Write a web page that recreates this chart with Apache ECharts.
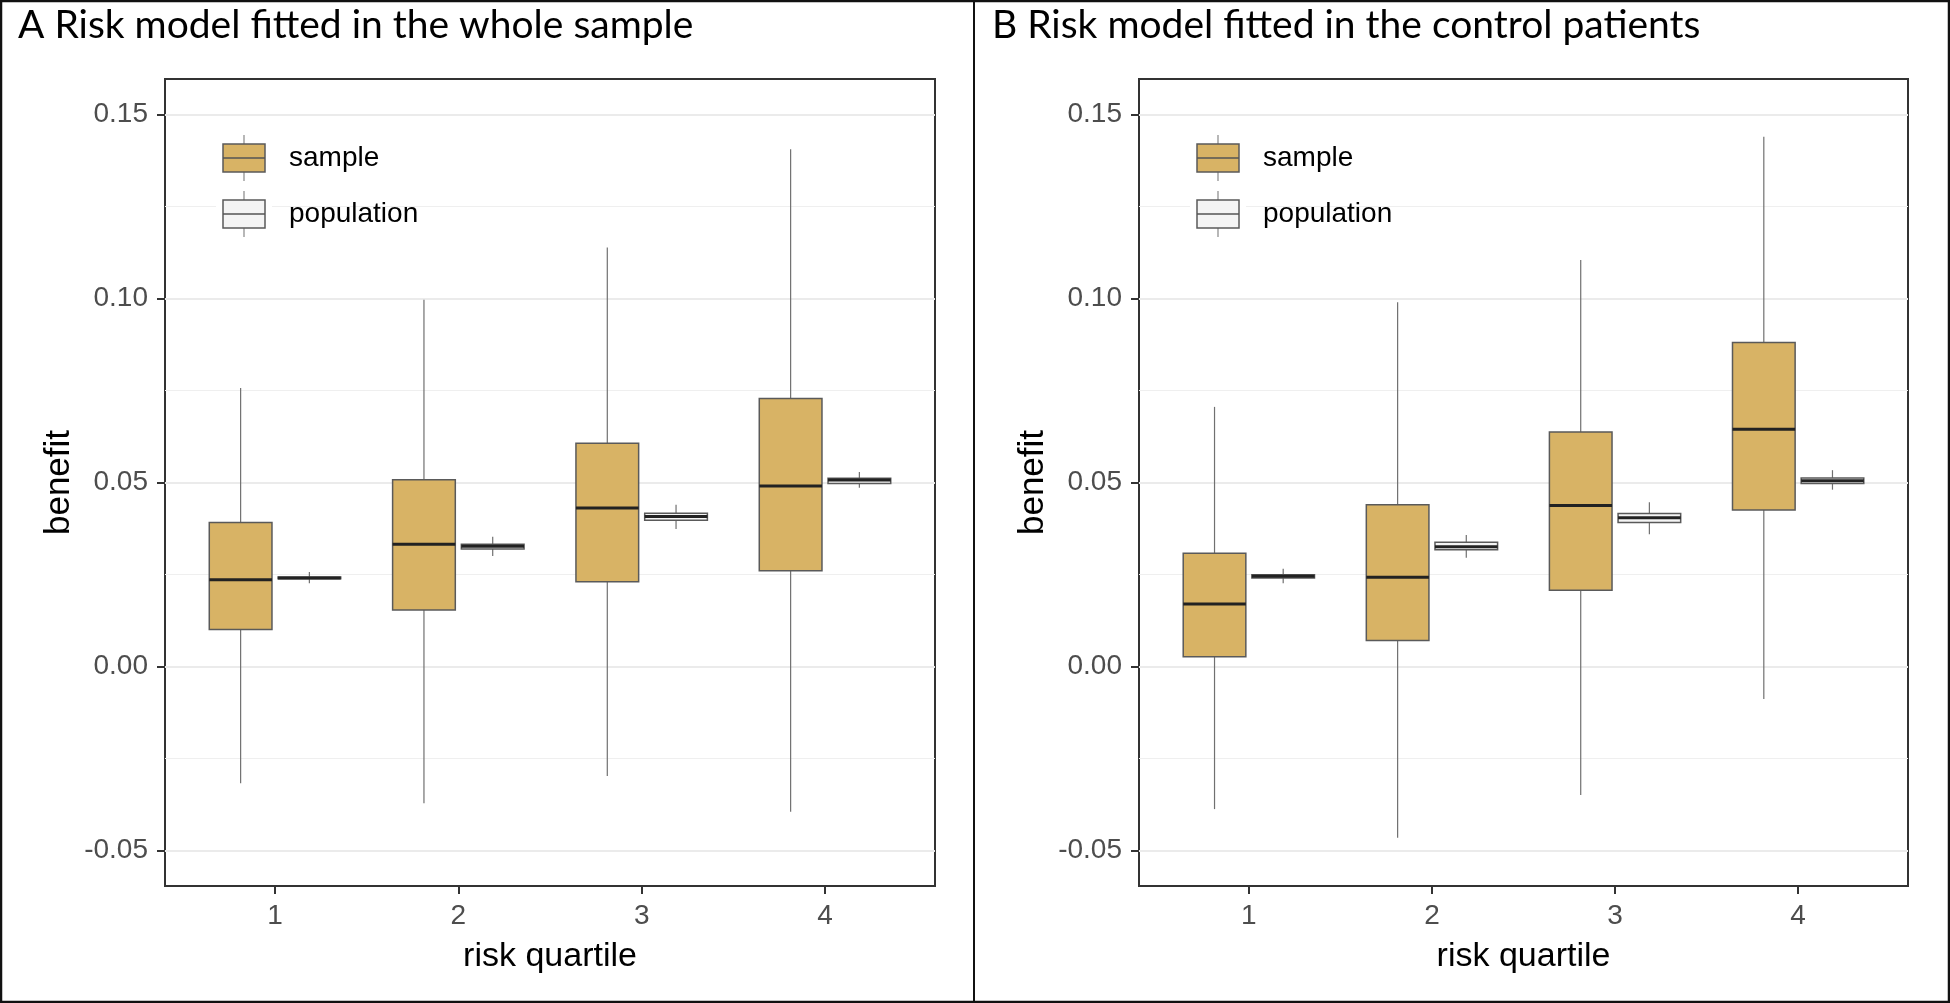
<!DOCTYPE html>
<html><head><meta charset="utf-8">
<script src="https://cdn.jsdelivr.net/npm/echarts@6/dist/echarts.min.js"></script>
<style>html,body{margin:0;padding:0;background:#fff}#c{width:1950px;height:1003px}</style>
</head><body><div id="c"></div><script>
// ---------------- data ----------------
const categories = [1, 2, 3, 4];
const xTickLabels = ['1', '2', '3', '4'];
const yTicks = [-0.05, 0, 0.05, 0.10, 0.15];
const yMinorTicks = [-0.025, 0.025, 0.075, 0.125];
const panelTitles = ['A Risk model fitted in the whole sample', 'B Risk model fitted in the control patients'];
const seriesNames = ['sample', 'population'];
const xTitle = 'risk quartile';
const yTitle = 'benefit';
// each row: [lower whisker, Q1, median, Q3, upper whisker] per risk quartile
const aSample = [
  [-0.0318, 0.0100, 0.0235, 0.0391, 0.0756],
  [-0.0372, 0.0153, 0.0332, 0.0507, 0.0996],
  [-0.0298, 0.0230, 0.0430, 0.0606, 0.1138],
  [-0.0395, 0.0260, 0.0490, 0.0728, 0.1405]
];
const aPopulation = [
  [0.0226, 0.0238, 0.0240, 0.0243, 0.0256],
  [0.0300, 0.0319, 0.0326, 0.0332, 0.0352],
  [0.0373, 0.0397, 0.0407, 0.0416, 0.0439],
  [0.0485, 0.0497, 0.0506, 0.0511, 0.0528]
];
const bSample = [
  [-0.0388, 0.0026, 0.0169, 0.0307, 0.0705],
  [-0.0466, 0.0070, 0.0242, 0.0439, 0.0989],
  [-0.0350, 0.0207, 0.0437, 0.0637, 0.1104],
  [-0.0089, 0.0425, 0.0644, 0.0880, 0.1439]
];
const bPopulation = [
  [0.0226, 0.0240, 0.0245, 0.0249, 0.0265],
  [0.0295, 0.0317, 0.0325, 0.0337, 0.0357],
  [0.0359, 0.0391, 0.0404, 0.0415, 0.0446],
  [0.0480, 0.0497, 0.0504, 0.0512, 0.0533]
];

// ---------------- styling ----------------
const SAMPLE_FILL = '#D8B365';
const POP_FILL = '#F4F4F4';
const BOX_STROKE = '#5a5a5a';
const WHISKER = '#707070';
const MEDIAN = '#222222';
const DODGE = 0.1875;
const BOX_W = 0.342;
const Y_MIN = -0.0597, Y_MAX = 0.1596;
const SANS = 'Liberation Sans, Arial, sans-serif';

const chart = echarts.init(document.getElementById('c'), null, {renderer: 'canvas'});

function boxRenderer(offset, fill) {
  return function (params, api) {
    const x = api.value(0) + offset;
    const pLo = api.coord([x, api.value(1)]);
    const pQ1 = api.coord([x, api.value(2)]);
    const pMd = api.coord([x, api.value(3)]);
    const pQ3 = api.coord([x, api.value(4)]);
    const pHi = api.coord([x, api.value(5)]);
    const hw = api.size([BOX_W, 0])[0] / 2;
    return {
      type: 'group',
      children: [
        {type: 'line', shape: {x1: pHi[0], y1: pHi[1], x2: pQ3[0], y2: pQ3[1]}, style: {stroke: WHISKER, lineWidth: 1.2}},
        {type: 'line', shape: {x1: pQ1[0], y1: pQ1[1], x2: pLo[0], y2: pLo[1]}, style: {stroke: WHISKER, lineWidth: 1.2}},
        {type: 'rect', shape: {x: pQ3[0] - hw, y: pQ3[1], width: 2 * hw, height: pQ1[1] - pQ3[1]},
          style: {fill: fill, stroke: BOX_STROKE, lineWidth: 1.5}},
        {type: 'line', shape: {x1: pMd[0] - hw, y1: pMd[1], x2: pMd[0] + hw, y2: pMd[1]}, style: {stroke: MEDIAN, lineWidth: 3}}
      ]
    };
  };
}

function rows(arr) { return categories.map((c, i) => [c].concat(arr[i])); }

const grids = [
  {left: 165, top: 79, width: 770, height: 807},
  {left: 1139, top: 79, width: 769, height: 807}
];
const panelShift = [0, 974];

const xAxes = [], yAxes = [], series = [], graphics = [];
grids.forEach((g, gi) => {
  xAxes.push({
    gridIndex: gi, type: 'value', min: 0.4, max: 4.6, position: 'bottom',
    name: xTitle, nameLocation: 'middle', nameGap: 54,
    nameTextStyle: {fontFamily: SANS, fontSize: 34, color: '#000'},
    axisLine: {show: false, onZero: false},
    axisTick: {show: true, length: 8, customValues: categories, lineStyle: {color: '#333', width: 2}},
    axisLabel: {customValues: categories, margin: 16, fontFamily: SANS, fontSize: 28, color: '#4d4d4d',
      formatter: v => xTickLabels[categories.indexOf(Math.round(v))]},
    splitLine: {show: false}
  });
  yAxes.push({
    gridIndex: gi, type: 'value', min: Y_MIN, max: Y_MAX, position: 'left',
    name: yTitle, nameLocation: 'middle', nameGap: 88, nameRotate: 90,
    nameTextStyle: {fontFamily: SANS, fontSize: 35, color: '#000'},
    axisLine: {show: false, onZero: false},
    axisTick: {show: true, length: 8, customValues: yTicks, lineStyle: {color: '#333', width: 2}},
    axisLabel: {customValues: yTicks, margin: 17, fontFamily: SANS, fontSize: 28, color: '#4d4d4d',
      formatter: v => v.toFixed(2)},
    splitLine: {show: true, lineStyle: {color: '#ebebeb', width: 2}}
  });
  yAxes.push({
    gridIndex: gi, type: 'value', min: Y_MIN, max: Y_MAX, position: 'left',
    axisLine: {show: false, onZero: false},
    axisTick: {show: false, customValues: yMinorTicks},
    axisLabel: {show: false, customValues: yMinorTicks},
    splitLine: {show: true, lineStyle: {color: '#efefef', width: 1.2}}
  });
});

const panelData = [[aSample, aPopulation], [bSample, bPopulation]];
panelData.forEach((pd, gi) => {
  series.push({
    type: 'custom', name: seriesNames[0], xAxisIndex: gi, yAxisIndex: gi * 2,
    renderItem: boxRenderer(-DODGE, SAMPLE_FILL), data: rows(pd[0]),
    encode: {x: 0, y: [1, 2, 3, 4, 5]}, z: 5
  });
  series.push({
    type: 'custom', name: seriesNames[1], xAxisIndex: gi, yAxisIndex: gi * 2,
    renderItem: boxRenderer(DODGE, POP_FILL), data: rows(pd[1]),
    encode: {x: 0, y: [1, 2, 3, 4, 5]}, z: 5
  });
});

// titles, frame, legends
panelTitles.forEach((t, i) => {
  graphics.push({type: 'text', left: 18 + panelShift[i], top: 6, z: 100,
    style: {text: t, font: '39px Lato, "Open Sans", sans-serif', fill: '#000'}});
});
graphics.push({type: 'rect', shape: {x: 1, y: 1, width: 1948, height: 1001}, z: 100,
  style: {fill: 'none', stroke: '#111', lineWidth: 2.5}});
graphics.push({type: 'line', shape: {x1: 974, y1: 0, x2: 974, y2: 1003}, z: 100,
  style: {stroke: '#111', lineWidth: 2}});

const legendFills = [SAMPLE_FILL, POP_FILL];
panelShift.forEach(dx => {
  seriesNames.forEach((nm, k) => {
    const cy = 158 + k * 56;
    const cx = 244 + dx;
    graphics.push({type: 'rect', z: 100, shape: {x: cx - 28, y: cy - 28, width: 56, height: 56}, style: {fill: '#fff'}});
    graphics.push({type: 'line', z: 101, shape: {x1: cx, y1: cy - 23, x2: cx, y2: cy + 23}, style: {stroke: '#888', lineWidth: 1.2}});
    graphics.push({type: 'rect', z: 102, shape: {x: cx - 21, y: cy - 14, width: 42, height: 28},
      style: {fill: legendFills[k], stroke: BOX_STROKE, lineWidth: 1.5}});
    graphics.push({type: 'line', z: 103, shape: {x1: cx - 21, y1: cy, x2: cx + 21, y2: cy}, style: {stroke: '#555', lineWidth: 1.5}});
    graphics.push({type: 'text', z: 103, left: cx + 45, top: cy - 14,
      style: {text: nm, font: '28px ' + SANS, fill: '#000'}});
  });
});

chart.setOption({
  animation: false,
  backgroundColor: '#fff',
  grid: grids.map(g => Object.assign({show: true, borderColor: '#333', borderWidth: 2, backgroundColor: 'transparent'}, g)),
  xAxis: xAxes,
  yAxis: yAxes,
  series: series,
  graphic: graphics
});
</script></body></html>
